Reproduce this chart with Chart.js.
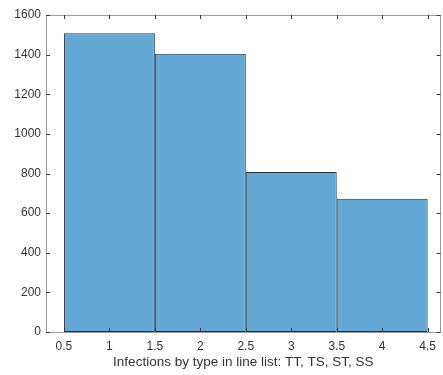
<!DOCTYPE html>
<html>
<head>
<meta charset="utf-8">
<script src="https://cdn.jsdelivr.net/npm/chart.js@4"></script>
<style>
html,body{margin:0;padding:0;background:#fff;overflow:hidden;}
#wrap{width:443px;height:375px;}
</style>
</head>
<body>
<div id="wrap"><canvas id="c" width="443" height="375"></canvas></div>
<script>
// ---- data ----
const binCenters = [1, 2, 3, 4];
const counts = [1508, 1404, 808, 673];
const xTicks = [0.5, 1, 1.5, 2, 2.5, 3, 3.5, 4, 4.5];
const yTicks = [0, 200, 400, 600, 800, 1000, 1200, 1400, 1600];
const xLabel = 'Infections by type in line list: TT, TS, ST, SS';

const FONT = '"Liberation Sans", Arial, Helvetica, sans-serif';
const AXIS_COLOR = '#9a9a9a';
const TEXT_COLOR = '#333333';

const framePlugin = {
  id: 'frame',
  afterDraw(chart) {
    const {ctx, chartArea: a, scales} = chart;
    const xs = scales.x, ys = scales.y;
    ctx.save();
    ctx.strokeStyle = AXIS_COLOR;
    ctx.lineWidth = 1;
    ctx.beginPath();
    ctx.rect(Math.round(a.left) + 0.5, Math.round(a.top) + 0.5,
             Math.round(a.right - a.left) - 1, Math.round(a.bottom - a.top));
    ctx.stroke();
    const L = 4;
    ctx.beginPath();
    xTicks.forEach(v => {
      const px = Math.round(xs.getPixelForValue(v)) + 0.5;
      ctx.moveTo(px, a.bottom); ctx.lineTo(px, a.bottom - L);
      ctx.moveTo(px, a.top); ctx.lineTo(px, a.top + L);
    });
    yTicks.forEach(v => {
      const py = Math.round(ys.getPixelForValue(v)) + 0.5;
      ctx.moveTo(a.left, py); ctx.lineTo(a.left + L, py);
      ctx.moveTo(a.right, py); ctx.lineTo(a.right - L, py);
    });
    ctx.strokeStyle = '#3a3a3a';
    ctx.stroke();
    ctx.restore();
  }
};

new Chart(document.getElementById('c'), {
  type: 'bar',
  data: {
    datasets: [{
      data: binCenters.map((x, i) => ({x: x, y: counts[i]})),
      backgroundColor: 'rgb(100,168,214)',
      borderColor: '#1e3246',
      borderWidth: 1,
      borderSkipped: false,
      // bar ruler uses tick spacing (0.5); 2 x 0.5 = one full bin width
      barPercentage: 2,
      categoryPercentage: 1,
      grouped: false
    }]
  },
  options: {
    responsive: false,
    animation: false,
    events: [],
    layout: {padding: {top: 15, right: 0, left: 0, bottom: 0}},
    plugins: {legend: {display: false}, tooltip: {enabled: false}},
    scales: {
      x: {
        type: 'linear',
        offset: false,
        min: 0.303,
        max: 4.642,
        afterBuildTicks: s => { s.ticks = xTicks.map(v => ({value: v})); },
        afterFit: s => { s.height = 43; },
        grid: {display: false, drawTicks: false, offset: false},
        border: {display: false},
        ticks: {
          color: TEXT_COLOR,
          font: {family: FONT, size: 12},
          padding: 7,
          maxRotation: 0,
          autoSkip: false,
          callback: v => String(v)
        },
        title: {
          display: true,
          text: xLabel,
          color: TEXT_COLOR,
          font: {family: FONT, size: 13.5},
          padding: {top: 0, bottom: 5}
        }
      },
      y: {
        min: 0,
        max: 1600,
        afterBuildTicks: s => { s.ticks = yTicks.map(v => ({value: v})); },
        afterFit: s => { s.width = 46; },
        grid: {display: false, drawTicks: false},
        border: {display: false},
        ticks: {
          color: TEXT_COLOR,
          font: {family: FONT, size: 12},
          padding: 5,
          autoSkip: false,
          callback: v => String(v)
        }
      }
    }
  },
  plugins: [framePlugin]
});
</script>
</body>
</html>
